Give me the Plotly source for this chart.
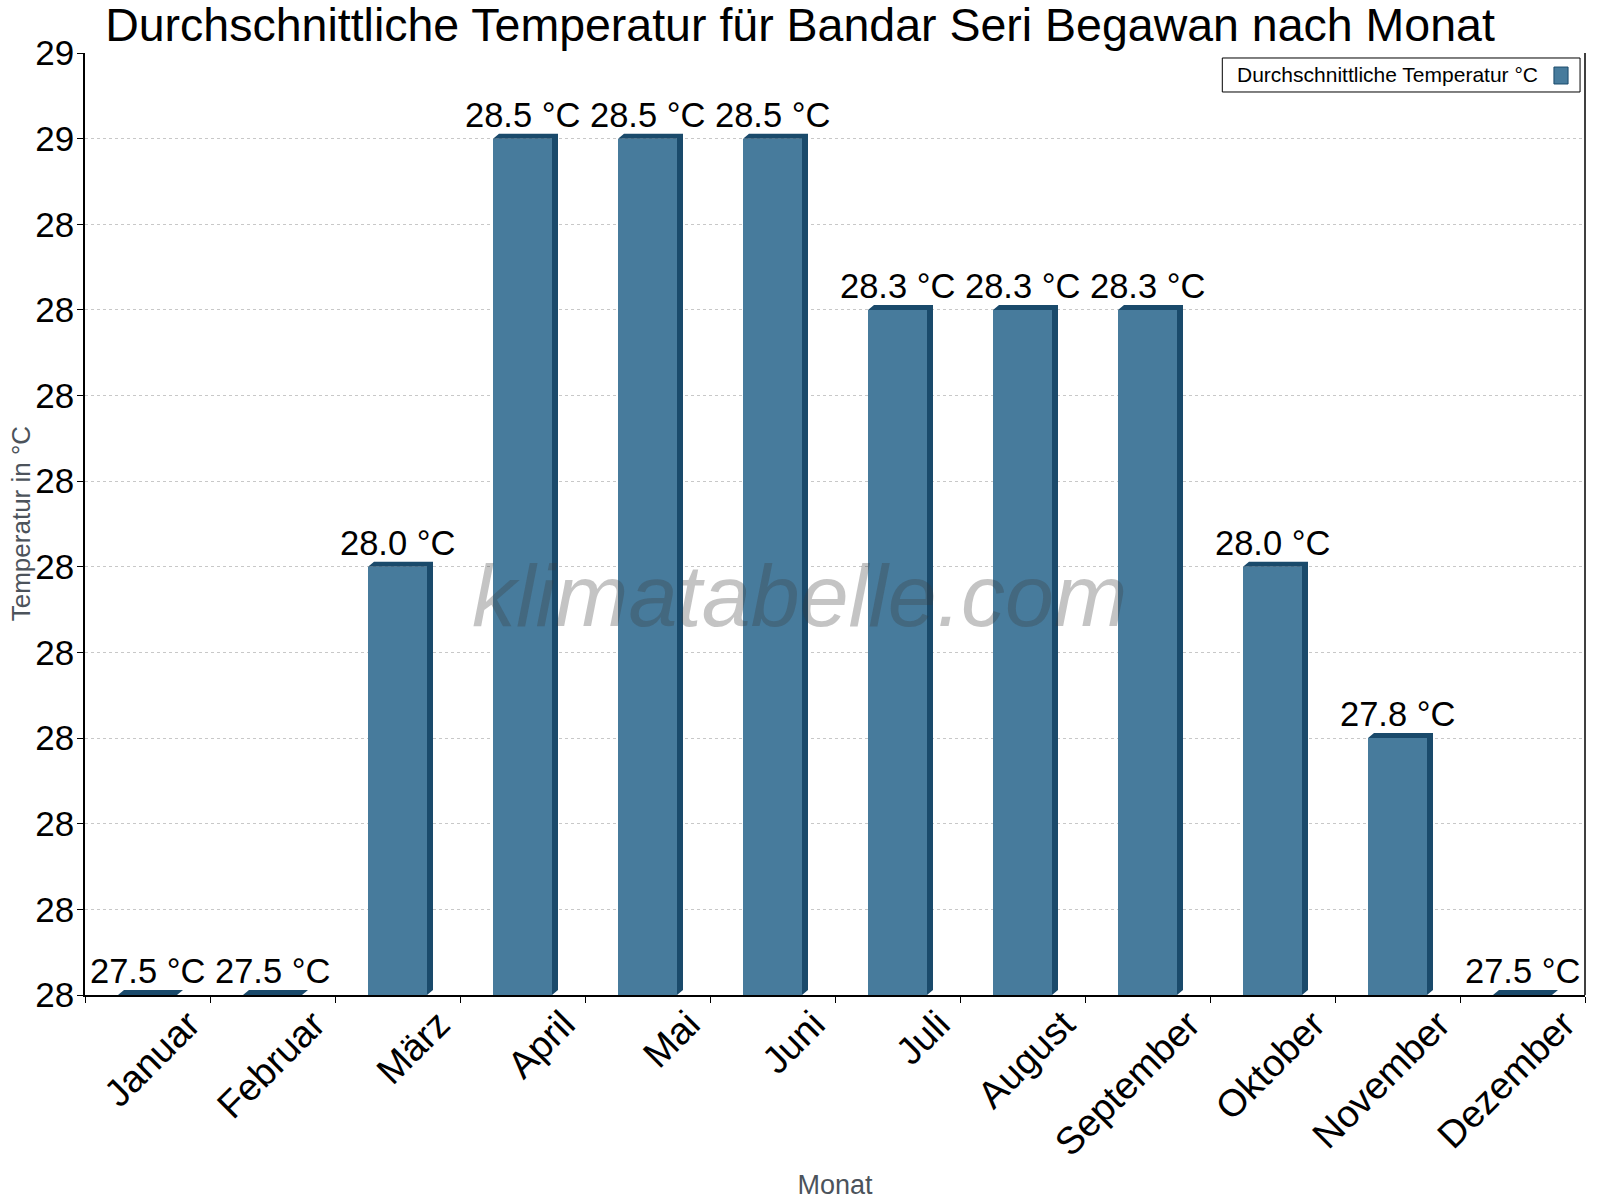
import plotly.graph_objects as go

months = ["Januar", "Februar", "März", "April", "Mai", "Juni", "Juli",
          "August", "September", "Oktober", "November", "Dezember"]
temps = [27.5, 27.5, 28.0, 28.5, 28.5, 28.5, 28.3, 28.3, 28.3, 28.0, 27.8, 27.5]
value_labels = [f"{t:.1f} °C" for t in temps]
y_ticks = [27.5, 27.6, 27.7, 27.8, 27.9, 28.0, 28.1, 28.2, 28.3, 28.4, 28.5, 28.6]
y_tick_labels = ["28", "28", "28", "28", "28", "28", "28", "28", "28", "28", "29", "29"]

FRONT = "#477b9c"
DARK = "#1a4a6b"
FONT = "Liberation Sans, Arial, sans-serif"

W, H = 1600, 1200
ML, MR, MT, MB = 85, 15, 53, 205
plot_w = W - ML - MR
plot_h = H - MT - MB
y0, y1 = y_ticks[0], y_ticks[-1]
x_idx = list(range(len(months)))
label_pos = [i + 0.33 for i in x_idx]

bar_w = 0.472
dx = 6 * 12 / plot_w
dy = 5 * (y1 - y0) / plot_h

fig = go.Figure()
fig.add_trace(go.Bar(x=x_idx, y=temps, width=bar_w, marker=dict(color=FRONT, line=dict(width=0)),
                     showlegend=False, hoverinfo="skip"))

shapes = []
for i, v in zip(x_idx, temps):
    xl, xr = i - bar_w / 2, i + bar_w / 2
    path = (f"M {xl},{v} L {xl+dx},{v+dy} L {xr+dx},{v+dy} L {xr+dx},{y0+dy} "
            f"L {xr},{y0} L {xr},{v} Z")
    shapes.append(dict(type="path", xref="x", yref="y", path=path,
                       fillcolor=DARK, line=dict(width=0), layer="above"))

# right border line
shapes.append(dict(type="line", xref="paper", yref="paper", x0=1, x1=1, y0=0, y1=1,
                   line=dict(color="black", width=1.5)))
# legend box and symbol
shapes.append(dict(type="rect", xref="paper", yref="paper", x0=0.7582, x1=0.9967, y0=0.9586, y1=0.9947,
                   line=dict(color="black", width=1), fillcolor="white", layer="above"))
shapes.append(dict(type="rect", xref="paper", yref="paper", x0=0.9793, x1=0.9887, y0=0.9671, y1=0.9851,
                   line=dict(color=DARK, width=1), fillcolor=FRONT, layer="above"))

annotations = []
for i, v, lab in zip(x_idx, temps, value_labels):
    annotations.append(dict(x=i, y=v, xref="x", yref="y", text=lab, showarrow=False,
                            yanchor="bottom", xanchor="center", yshift=3,
                            font=dict(family=FONT, size=34.5, color="black")))
annotations.append(dict(x=0.7668, y=0.9777, xref="paper", yref="paper", text="Durchschnittliche Temperatur °C",
                        showarrow=False, xanchor="left", yanchor="middle",
                        font=dict(family=FONT, size=21, color="black")))
annotations.append(dict(x=0.476, y=0.424, xref="paper", yref="paper", text="<i>klimatabelle.com</i>",
                        showarrow=False, xanchor="center", yanchor="middle",
                        font=dict(family=FONT, size=88, color="rgba(60,60,60,0.30)")))
annotations.append(dict(x=-0.0425, y=0.5, xref="paper", yref="paper", text="Temperatur in °C",
                        showarrow=False, xanchor="center", yanchor="middle", textangle=-90,
                        font=dict(family=FONT, size=26, color="#4c535b")))

fig.update_layout(
    width=W, height=H,
    margin=dict(l=ML, r=MR, t=MT, b=MB, autoexpand=False),
    paper_bgcolor="white", plot_bgcolor="white",
    title=dict(text="Durchschnittliche Temperatur für Bandar Seri Begawan nach Monat",
               x=0.5, xanchor="center", y=0.979, yanchor="middle",
               font=dict(family=FONT, size=46.5, color="black")),
    font=dict(family=FONT),
    shapes=shapes,
    annotations=annotations,
    bargap=0,
    xaxis=dict(range=[-0.5, 11.5], tickmode="array", tickvals=label_pos, ticktext=months,
               tickangle=-45, ticks="", showgrid=False, zeroline=False, automargin=False,
               showline=True, linecolor="black", linewidth=1.5, ticklabelstandoff=-10,
               tickfont=dict(family=FONT, size=38, color="black"),
               minor=dict(tickmode="linear", tick0=-0.5, dtick=1, ticks="outside", ticklen=6,
                          tickcolor="black", showgrid=False),
               title=dict(text="Monat", font=dict(family=FONT, size=27, color="#4c535b"), standoff=20)),
    yaxis=dict(range=[y0, y1], tickmode="array", tickvals=y_ticks, ticktext=y_tick_labels,
               ticks="outside", ticklen=6, tickcolor="black", showline=True, linecolor="black", linewidth=1.5,
               showgrid=True, gridcolor="#c8c8c8", griddash="dot", gridwidth=1, zeroline=False,
               automargin=False, ticklabelstandoff=-4,
               tickfont=dict(family=FONT, size=35, color="black")),
)

fig.write_html("out.html")
